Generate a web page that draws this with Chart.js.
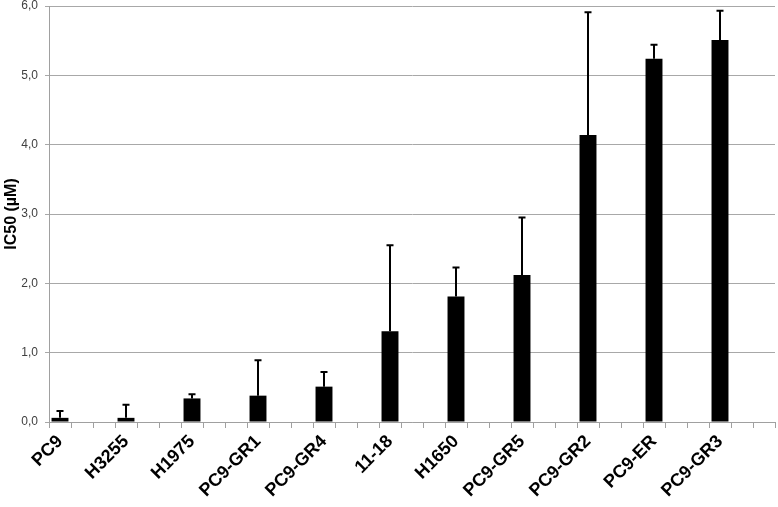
<!DOCTYPE html>
<html>
<head>
<meta charset="utf-8">
<script src="https://cdn.jsdelivr.net/npm/chart.js@4/dist/chart.umd.min.js"></script>
<style>
  html, body { margin: 0; padding: 0; background: #ffffff; }
  #wrap { width: 778px; height: 507px; }
</style>
</head>
<body>
<div id="wrap"><canvas id="c" width="778" height="507"></canvas></div>
<script>
// Data
const categories = ["PC9", "H3255", "H1975", "PC9-GR1", "PC9-GR4", "11-18", "H1650", "PC9-GR5", "PC9-GR2", "PC9-ER", "PC9-GR3"];
const ic50Values = [0.06, 0.06, 0.34, 0.38, 0.51, 1.31, 1.81, 2.12, 4.14, 5.24, 5.51];
const ic50Errors = [0.10, 0.19, 0.06, 0.51, 0.21, 1.24, 0.42, 0.83, 1.77, 0.20, 0.42];
const yTicks = [0, 1, 2, 3, 4, 5, 6];

// The original axis has three slots per cell line (bar in the first slot)
const SLOTS = 3;
const slotLabels = [];
const slotValues = [];
const slotErrors = [];
categories.forEach((c, i) => {
  for (let s = 0; s < SLOTS; s++) {
    slotLabels.push(s === 0 ? c : "");
    slotValues.push(s === 0 ? ic50Values[i] : null);
    slotErrors.push(s === 0 ? ic50Errors[i] : null);
  }
});

const errorBarPlugin = {
  id: "errorBars",
  afterDatasetsDraw(chart) {
    const ctx = chart.ctx;
    const meta = chart.getDatasetMeta(0);
    const yScale = chart.scales.y;
    ctx.save();
    ctx.strokeStyle = "#000000";
    ctx.lineWidth = 2;
    meta.data.forEach((bar, i) => {
      const v = slotValues[i];
      const e = slotErrors[i];
      if (v === null || e === null) return;
      const x = Math.round(bar.x);
      const yTop = yScale.getPixelForValue(v + e);
      const yBase = yScale.getPixelForValue(v);
      ctx.beginPath();
      ctx.moveTo(x, yBase);
      ctx.lineTo(x, yTop);
      ctx.moveTo(x - 3.5, yTop);
      ctx.lineTo(x + 3.5, yTop);
      ctx.stroke();
    });
    ctx.restore();
  }
};

const fontFamily = "'Liberation Sans', Arial, sans-serif";

new Chart(document.getElementById("c"), {
  type: "bar",
  data: {
    labels: slotLabels,
    datasets: [{
      data: slotValues,
      backgroundColor: "#000000",
      borderWidth: 0,
      barPercentage: 0.77,
      categoryPercentage: 1.0
    }]
  },
  options: {
    responsive: false,
    animation: false,
    layout: { padding: { top: 6, right: 3, left: 0, bottom: 0 } },
    plugins: { legend: { display: false }, tooltip: { enabled: false } },
    scales: {
      x: {
        offset: true,
        grid: {
          offset: true,
          drawOnChartArea: false,
          drawTicks: true,
          tickLength: 6,
          color: "#a0a0a0",
          lineWidth: 1
        },
        border: { color: "#a0a0a0", width: 1 },
        ticks: {
          autoSkip: false,
          maxRotation: 45,
          minRotation: 45,
          padding: 3,
          color: "#000000",
          font: { family: fontFamily, size: 18, weight: "bold" }
        },
        afterFit(scale) {
          scale.height = 85;
          scale.paddingLeft = 0;
          scale.paddingRight = 0;
          scale.paddingTop = 0;
          scale.paddingBottom = 0;
        }
      },
      y: {
        min: 0,
        max: 6,
        afterBuildTicks(scale) { scale.ticks = yTicks.map(v => ({ value: v })); },
        grid: {
          color: "#a8a8a8",
          lineWidth: 1,
          drawTicks: true,
          tickLength: 4
        },
        border: { color: "#a0a0a0", width: 1 },
        ticks: {
          padding: 7,
          color: "#404040",
          font: { family: fontFamily, size: 12 },
          callback: (v) => Number(v).toFixed(1).replace(".", ",")
        },
        title: {
          display: true,
          text: "IC50 (µM)",
          color: "#000000",
          padding: { top: 2, bottom: 0 },
          font: { family: fontFamily, size: 16, weight: "bold" }
        },
        afterFit(scale) {
          scale.width = 49;
          scale.paddingLeft = 0;
          scale.paddingRight = 0;
          scale.paddingTop = 0;
          scale.paddingBottom = 0;
        }
      }
    }
  },
  plugins: [errorBarPlugin]
});
</script>
</body>
</html>
